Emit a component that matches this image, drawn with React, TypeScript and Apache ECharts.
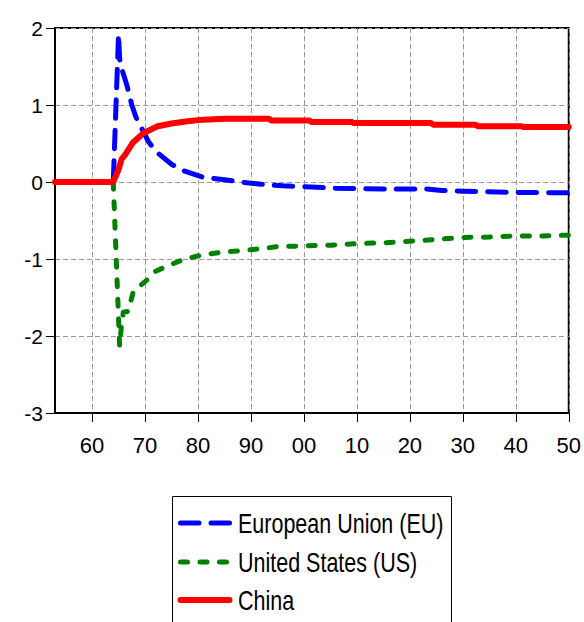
import React, { useEffect, useRef } from "react";
import * as echarts from "echarts";

// Annual categories used for the horizontal axis (ticks, labels, grid lines)
const yearCategories: string[] = [];
for (let y = 1953; y <= 2050; y++) yearCategories.push(String(y));
const xTickYears = [1960, 1970, 1980, 1990, 2000, 2010, 2020, 2030, 2040, 2050];
const yTickValues = [-3, -2, -1, 0, 1, 2];

const seriesNames = ["European Union (EU)", "United States (US)", "China"];
const seriesColors = ["#0000ff", "#008000", "#ff0000"];

// [year, value]
const euData: [number, number][] = [
  [1953, 0], [1964, 0], [1965, 1.92], [1965.2, 1.6], [1965.7, 1.45], [1966.6, 1.25],
  [1967.5, 1.0], [1968.3, 0.84], [1970.6, 0.53], [1972, 0.4], [1975, 0.23],
  [1977.5, 0.14], [1981, 0.06], [1985, 0.03], [1988, 0.0], [1992, -0.03],
  [1996, -0.05], [2000, -0.06], [2006, -0.08], [2015, -0.09], [2020, -0.09],
  [2023, -0.09], [2026, -0.11], [2030, -0.12], [2040, -0.135], [2050, -0.14],
];

const usData: [number, number][] = [
  [1953, 0], [1964, 0], [1965.2, -2.13], [1965.5, -1.9], [1965.9, -1.69],
  [1966.8, -1.68], [1967.8, -1.42], [1970.6, -1.26], [1972, -1.16], [1974.2, -1.09],
  [1977.5, -1.0], [1981.3, -0.94], [1985, -0.91], [1990, -0.88], [1995, -0.84],
  [2000, -0.83], [2005, -0.82], [2010, -0.8], [2015, -0.79], [2020, -0.77],
  [2025, -0.745], [2030, -0.72], [2035, -0.715], [2040, -0.7], [2045, -0.7], [2050, -0.69],
];

const chinaData: [number, number][] = [
  [1953, 0], [1964, 0], [1965, 0.16], [1965.6, 0.3], [1966.2, 0.35], [1967.7, 0.51],
  [1969.6, 0.63], [1972.2, 0.72], [1975, 0.76], [1978, 0.79], [1981, 0.81],
  [1985, 0.82], [1993.4, 0.82], [1993.8, 0.8], [2001, 0.8], [2001.4, 0.78],
  [2009, 0.78], [2009.4, 0.765], [2024, 0.765], [2024.4, 0.745], [2032.4, 0.745],
  [2032.8, 0.725], [2041, 0.725], [2041.4, 0.715], [2050, 0.715],
];

const SANS = "'Liberation Sans', Arial, sans-serif";

const isTickYear = (value: string | number) => xTickYears.includes(Number(value));

const lineDashes: (number[] | null)[] = [[18.5, 12], [7, 12.5], null];
const lineWidths = [5, 5, 6];

export default function App() {
  const ref = useRef<HTMLDivElement>(null);

  useEffect(() => {
    document.body.style.margin = "0";
    if (!ref.current) return;
    const chart = echarts.init(ref.current, undefined, { renderer: "svg" });

    const gridLine = { show: true, lineStyle: { color: "#9a9a9a", width: 1, type: [5, 3] } };

    // Legend drawn as a boxed key (sample line + stretched text)
    const legendRows = [523, 562, 600];
    const legendGraphics: any[] = [
      {
        type: "rect",
        z: 10,
        shape: { x: 172.5, y: 496.5, width: 279, height: 200 },
        style: { fill: "#fff", stroke: "#000", lineWidth: 1 },
      },
    ];
    seriesNames.forEach((name, i) => {
      const y = legendRows[i];
      legendGraphics.push({
        type: "line",
        z: 11,
        shape: { x1: 180.5, y1: y, x2: 229.5, y2: y },
        style: {
          stroke: seriesColors[i],
          lineWidth: lineWidths[i],
          lineDash: lineDashes[i] || undefined,
          lineCap: "round",
        },
      });
      legendGraphics.push({
        type: "text",
        z: 11,
        x: 238,
        y: y,
        scaleY: 1.3,
        style: {
          text: name,
          x: 0,
          y: 0,
          fill: "#000",
          font: `21.5px ${SANS}`,
          textAlign: "left",
          textVerticalAlign: "middle",
        },
      });
    });

    chart.setOption({
      animation: false,
      backgroundColor: "#ffffff",
      grid: {
        left: 55,
        right: 15,
        top: 28,
        bottom: 209,
        show: true,
        borderColor: "#000",
        borderWidth: 2,
        backgroundColor: "transparent",
      },
      xAxis: [
        {
          type: "category",
          data: yearCategories,
          boundaryGap: false,
          axisLine: { show: true, onZero: false, lineStyle: { color: "#000", width: 2 } },
          axisTick: {
            show: true,
            inside: false,
            length: 9,
            interval: (_i: number, v: string) => isTickYear(v),
            lineStyle: { color: "#000", width: 1 },
          },
          axisLabel: {
            interval: (_i: number, v: string) => isTickYear(v),
            formatter: (v: string) => String(Number(v) % 100).padStart(2, "0"),
            color: "#000",
            fontFamily: SANS,
            fontSize: 22,
            margin: 21,
          },
          splitLine: { ...gridLine, interval: (_i: number, v: string) => isTickYear(v) },
        },
        {
          type: "value",
          min: 1953,
          max: 2050,
          show: false,
          axisLine: { onZero: false },
          splitLine: { show: false },
        },
      ],
      yAxis: {
        type: "value",
        min: yTickValues[0],
        max: yTickValues[yTickValues.length - 1],
        interval: 1,
        axisLine: { show: true, onZero: false, lineStyle: { color: "#000", width: 2 } },
        axisTick: { show: true, inside: false, length: 9, lineStyle: { color: "#000", width: 1 } },
        axisLabel: { color: "#000", fontFamily: SANS, fontSize: 21, margin: 12 },
        splitLine: gridLine,
      },
      graphic: legendGraphics,
      series: seriesNames.map((name, i) => ({
        name,
        type: "line",
        xAxisIndex: 1,
        data: [euData, usData, chinaData][i],
        symbol: "none",
        lineStyle: {
          color: seriesColors[i],
          width: lineWidths[i],
          type: lineDashes[i] || "solid",
          cap: "round",
          join: "round",
        },
        itemStyle: { color: seriesColors[i] },
      })),
    });

    return () => chart.dispose();
  }, []);

  return <div ref={ref} style={{ width: 584, height: 622 }} />;
}
